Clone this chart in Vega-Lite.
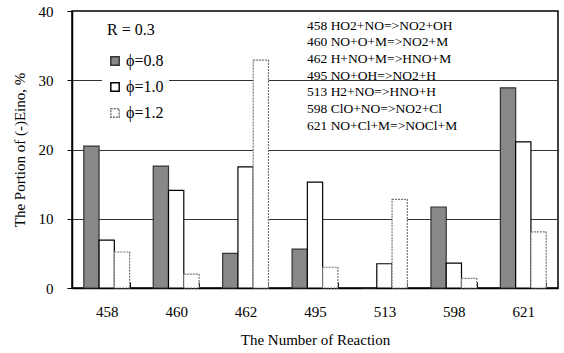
{
  "$schema": "https://vega.github.io/schema/vega-lite/v6.json",
  "autosize": "none",
  "width": 486,
  "height": 277,
  "padding": {"left": 72, "top": 11, "right": 6, "bottom": 65},
  "background": "white",
  "config": {
    "font": "Liberation Serif",
    "view": {"stroke": "black", "strokeWidth": 1.5},
    "axis": {"labelFont": "Liberation Serif", "titleFont": "Liberation Serif", "titleFontWeight": "normal", "labelColor": "black", "titleColor": "black", "domainColor": "black", "tickColor": "black", "domainWidth": 1.5},
    "legend": {"labelFont": "Liberation Serif", "titleFont": "Liberation Serif"},
    "text": {"font": "Liberation Serif"}
  },
  "layer": [
    {
      "data": {
        "values": [
          {"reaction": "458", "phi": "0.8", "portion": 20.5},
          {"reaction": "458", "phi": "1.0", "portion": 6.9},
          {"reaction": "458", "phi": "1.2", "portion": 5.2},
          {"reaction": "460", "phi": "0.8", "portion": 17.6},
          {"reaction": "460", "phi": "1.0", "portion": 14.1},
          {"reaction": "460", "phi": "1.2", "portion": 2.0},
          {"reaction": "462", "phi": "0.8", "portion": 5.0},
          {"reaction": "462", "phi": "1.0", "portion": 17.5},
          {"reaction": "462", "phi": "1.2", "portion": 32.9},
          {"reaction": "495", "phi": "0.8", "portion": 5.6},
          {"reaction": "495", "phi": "1.0", "portion": 15.3},
          {"reaction": "495", "phi": "1.2", "portion": 3.0},
          {"reaction": "513", "phi": "0.8", "portion": 0},
          {"reaction": "513", "phi": "1.0", "portion": 3.5},
          {"reaction": "513", "phi": "1.2", "portion": 12.8},
          {"reaction": "598", "phi": "0.8", "portion": 11.7},
          {"reaction": "598", "phi": "1.0", "portion": 3.6},
          {"reaction": "598", "phi": "1.2", "portion": 1.4},
          {"reaction": "621", "phi": "0.8", "portion": 28.9},
          {"reaction": "621", "phi": "1.0", "portion": 21.1},
          {"reaction": "621", "phi": "1.2", "portion": 8.1}
        ]
      },
      "mark": {"type": "bar", "strokeWidth": 1.2},
      "encoding": {
        "x": {
          "field": "reaction", "type": "nominal",
          "scale": {"paddingInner": 0.34, "paddingOuter": 0.17},
          "axis": {"labelAngle": 0, "labelFontSize": 15, "labelPadding": 22, "tickBand": "extent", "tickSize": -6, "title": "The Number of Reaction", "titleFontSize": 15, "titlePadding": 13}
        },
        "xOffset": {"field": "phi", "type": "nominal"},
        "y": {
          "field": "portion", "type": "quantitative",
          "scale": {"domain": [0, 40], "nice": false},
          "axis": {
            "values": [0, 5, 10, 15, 20, 25, 30, 35, 40],
            "labelExpr": "datum.value % 10 == 0 ? datum.label : ''",
            "labelFontSize": 15, "labelPadding": 14, "tickSize": 5,
            "grid": true, "gridColor": "#333333", "gridWidth": 1,
            "gridOpacity": {"condition": {"test": "datum.value % 10 == 0 && datum.value > 0 && datum.value < 40", "value": 1}, "value": 0},
            "title": "The Portion of (-)Eino, %", "titleFontSize": 15, "titlePadding": 11
          }
        },
        "fill": {
          "field": "phi", "type": "nominal",
          "scale": {"domain": ["0.8", "1.0", "1.2"], "range": ["#888888", "#ffffff", "#ffffff"]},
          "legend": {
            "orient": "none", "legendX": 30, "legendY": 6,
            "title": "R = 0.3", "titleFontSize": 16, "titleFontWeight": "normal", "titlePadding": 15,
            "labelExpr": "'ϕ=' + datum.label", "labelFontSize": 16,
            "symbolType": "square", "symbolSize": 70, "rowPadding": 10, "labelOffset": 3,
            "fillColor": "white", "padding": 5
          }
        },
        "stroke": {
          "field": "phi", "type": "nominal",
          "scale": {"domain": ["0.8", "1.0", "1.2"], "range": ["#333333", "#000000", "#777777"]}
        },
        "strokeDash": {
          "field": "phi", "type": "nominal",
          "scale": {"domain": ["0.8", "1.0", "1.2"], "range": [[1, 0], [1, 0], [2, 1]]}
        }
      }
    },
    {
      "data": {"values": [{"note": "reactions"}]},
      "mark": {"type": "text", "align": "left", "baseline": "top", "dx": -8, "fontSize": 13.5, "lineHeight": 16.7, "fill": "black", "fontWeight": "normal"},
      "encoding": {
        "x": {"datum": "495"},
        "y": {"datum": 38.9},
        "text": {"value": ["458 HO2+NO=>NO2+OH", "460 NO+O+M=>NO2+M", "462 H+NO+M=>HNO+M", "495 NO+OH=>NO2+H", "513 H2+NO=>HNO+H", "598 ClO+NO=>NO2+Cl", "621 NO+Cl+M=>NOCl+M"]}
      }
    }
  ]
}
